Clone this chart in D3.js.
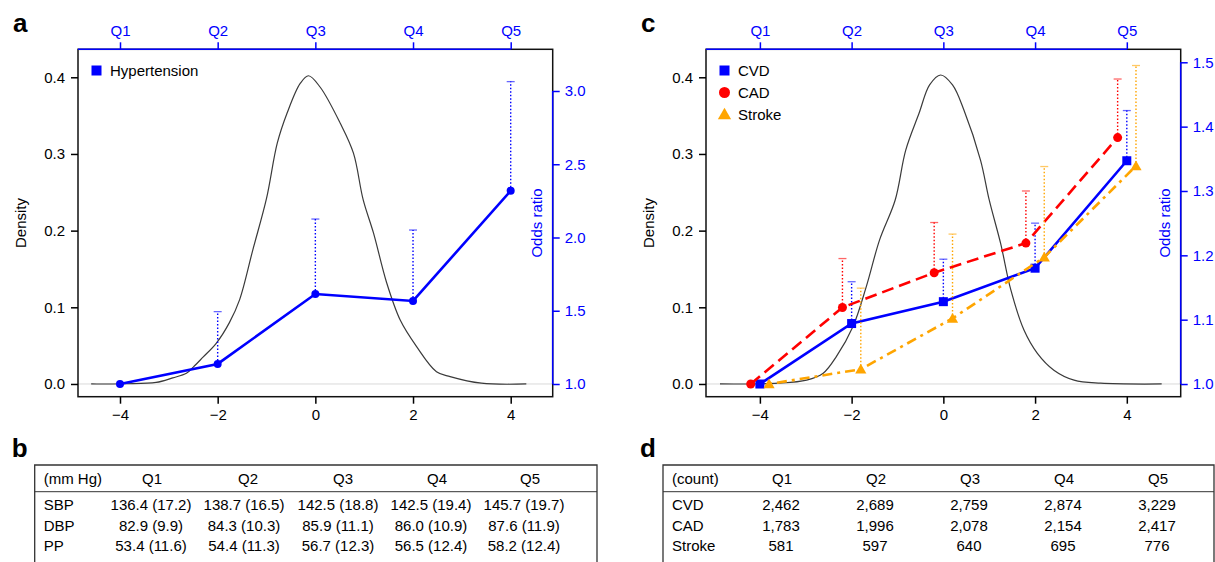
<!DOCTYPE html>
<html>
<head>
<meta charset="utf-8">
<script src="https://cdn.jsdelivr.net/npm/d3@7"></script>
<style>
  body { margin: 0; background: #fff; }
  text { font-family: "Liberation Sans", Arial, Helvetica, sans-serif; }
</style>
</head>
<body>
<svg id="fig" width="1215" height="562"></svg>
<script>
// ---- data ----
const quintiles = ['Q1', 'Q2', 'Q3', 'Q4', 'Q5'];
const quintileX = [-4, -2, 0, 2, 4];

// density of the genetic risk score, panel a
const densityA = [
  [-4.59, 0], [-3.9, 0.0003], [-3.26, 0.002], [-2.92, 0.008], [-2.64, 0.014],
  [-2.5, 0.022], [-2.3, 0.035], [-2.03, 0.053], [-1.76, 0.08], [-1.55, 0.11],
  [-1.28, 0.175], [-1.0, 0.242], [-0.78, 0.314], [-0.58, 0.353], [-0.31, 0.392],
  [-0.14, 0.402], [0.1, 0.387], [0.51, 0.34], [0.78, 0.301], [0.98, 0.24],
  [1.19, 0.197], [1.46, 0.132], [1.74, 0.083], [2.07, 0.049], [2.48, 0.016],
  [2.76, 0.0096], [3.4, 0.001], [4.32, 0]
];

// density, panel c
const densityC = [
  [-4.87, 0], [-3.6, 0.001], [-2.98, 0.005], [-2.62, 0.014], [-2.33, 0.036],
  [-1.97, 0.075], [-1.68, 0.127], [-1.39, 0.188], [-1.05, 0.24], [-0.82, 0.305],
  [-0.53, 0.353], [-0.3, 0.39], [-0.06, 0.403], [0.2, 0.39], [0.45, 0.357],
  [0.81, 0.292], [1.0, 0.24], [1.25, 0.183], [1.47, 0.123], [1.76, 0.07],
  [2.05, 0.04], [2.41, 0.018], [2.85, 0.005], [3.43, 0.001], [4.76, 0]
];

// odds ratios and upper CI
const htnOR = [1.0, 1.137, 1.614, 1.567, 2.319];
const htnUpper = [null, 1.494, 2.126, 2.051, 3.064];

const cvdOR = [1.0, 1.094, 1.128, 1.180, 1.347];
const cvdUpper = [null, 1.159, 1.194, 1.250, 1.425];
const cadOR = [1.0, 1.119, 1.173, 1.219, 1.383];
const cadUpper = [null, 1.195, 1.251, 1.300, 1.474];
const strokeOR = [1.0, 1.023, 1.102, 1.197, 1.339];
const strokeUpper = [null, 1.149, 1.233, 1.338, 1.495];

const densityTicks = [0, 0.1, 0.2, 0.3, 0.4];
const xTicks = [-4, -2, 0, 2, 4];
const orTicksA = [1.0, 1.5, 2.0, 2.5, 3.0];
const orTicksC = [1.0, 1.1, 1.2, 1.3, 1.4, 1.5];

// tables
const bpHeader = ['(mm Hg)', 'Q1', 'Q2', 'Q3', 'Q4', 'Q5'];
const bpRows = [
  ['SBP', '136.4 (17.2)', '138.7 (16.5)', '142.5 (18.8)', '142.5 (19.4)', '145.7 (19.7)'],
  ['DBP', '82.9 (9.9)', '84.3 (10.3)', '85.9 (11.1)', '86.0 (10.9)', '87.6 (11.9)'],
  ['PP', '53.4 (11.6)', '54.4 (11.3)', '56.7 (12.3)', '56.5 (12.4)', '58.2 (12.4)']
];
const countHeader = ['(count)', 'Q1', 'Q2', 'Q3', 'Q4', 'Q5'];
const countRows = [
  ['CVD', '2,462', '2,689', '2,759', '2,874', '3,229'],
  ['CAD', '1,783', '1,996', '2,078', '2,154', '2,417'],
  ['Stroke', '581', '597', '640', '695', '776']
];

// ---- drawing ----
const svg = d3.select('#fig');
const BLUE = '#0000ff';
const plotTop = 49.3, plotBottom = 396.7;

function drawPanel(o) {
  const g = svg.append('g');
  const x = d3.scaleLinear().domain(o.xDomain).range([o.left, o.right]);
  const y = d3.scaleLinear().domain([-0.0166, 0.4365]).range([plotBottom, plotTop]);
  const yr = d3.scaleLinear().domain(o.orDomain).range([plotBottom, plotTop]);

  // baseline
  g.append('line')
    .attr('x1', o.left).attr('x2', o.right)
    .attr('y1', y(0)).attr('y2', y(0))
    .attr('stroke', '#d9d9d9').attr('stroke-width', 1);

  // density curve
  g.append('path')
    .datum(o.density)
    .attr('fill', 'none')
    .attr('stroke', '#3a3a3a')
    .attr('stroke-width', 1.2)
    .attr('d', d3.line().x(d => x(d[0])).y(d => y(d[1])).curve(d3.curveCatmullRom));

  // series
  o.series.forEach(s => {
    const px = i => x(quintileX[i] + s.offset);
    // error bars (upper only)
    s.upper.forEach((u, i) => {
      if (u == null) return;
      g.append('line')
        .attr('x1', px(i)).attr('x2', px(i))
        .attr('y1', yr(s.or[i])).attr('y2', yr(u))
        .attr('stroke', s.color).attr('stroke-width', 1.4)
        .attr('stroke-dasharray', '1.5,2');
      g.append('line')
        .attr('x1', px(i) - 4).attr('x2', px(i) + 4)
        .attr('y1', yr(u)).attr('y2', yr(u))
        .attr('stroke', s.color).attr('stroke-opacity', 0.6).attr('stroke-width', 1.3);
    });
    g.append('path')
      .datum(s.or)
      .attr('fill', 'none')
      .attr('stroke', s.color)
      .attr('stroke-width', 2.6)
      .attr('stroke-dasharray', s.dash)
      .attr('d', d3.line().x((d, i) => px(i)).y(d => yr(d)));
    s.or.forEach((v, i) => drawMarker(g, s.shape, px(i), yr(v), s.color, s.size));
  });

  // box
  g.append('rect')
    .attr('x', o.left).attr('y', plotTop)
    .attr('width', o.right - o.left).attr('height', plotBottom - plotTop)
    .attr('fill', 'none').attr('stroke', '#111').attr('stroke-width', 1.5);

  const styleAxis = (sel, color) => {
    sel.select('.domain').remove();
    sel.selectAll('line').attr('stroke', color).attr('stroke-width', 1.5);
    sel.selectAll('text').attr('fill', color).style('font-size', '15px');
  };

  g.append('g').attr('transform', `translate(0,${plotBottom})`)
    .call(d3.axisBottom(x).tickValues(xTicks).tickSize(7).tickPadding(6)
      .tickFormat(d3.format('d')))
    .call(sel => styleAxis(sel, '#000'));

  g.append('g').attr('transform', `translate(${o.left},0)`)
    .call(d3.axisLeft(y).tickValues(densityTicks).tickSize(7).tickPadding(6)
      .tickFormat(d3.format('.1f')))
    .call(sel => styleAxis(sel, '#000'));

  // top quintile axis
  g.append('line')
    .attr('x1', o.left).attr('x2', x(quintileX[4]))
    .attr('y1', plotTop).attr('y2', plotTop)
    .attr('stroke', BLUE).attr('stroke-width', 1.5);
  g.append('g').attr('transform', `translate(0,${plotTop})`)
    .call(d3.axisTop(x).tickValues(quintileX).tickSize(7).tickPadding(6)
      .tickFormat((d, i) => quintiles[i]))
    .call(sel => styleAxis(sel, BLUE));

  // right odds ratio axis
  g.append('line')
    .attr('x1', o.right).attr('x2', o.right)
    .attr('y1', yr(o.orTicks[0])).attr('y2', yr(o.orTicks[o.orTicks.length - 1]))
    .attr('stroke', BLUE).attr('stroke-width', 1.5);
  g.append('g').attr('transform', `translate(${o.right},0)`)
    .call(d3.axisRight(yr).tickValues(o.orTicks).tickSize(7).tickPadding(5)
      .tickFormat(d3.format('.1f')))
    .call(sel => styleAxis(sel, BLUE));

  // axis titles
  const midY = (plotTop + plotBottom) / 2;
  g.append('text')
    .attr('transform', `translate(${o.left - 52},${midY}) rotate(-90)`)
    .attr('text-anchor', 'middle').style('font-size', '15px')
    .text('Density');
  g.append('text')
    .attr('transform', `translate(${o.right - 11},${midY}) rotate(-90)`)
    .attr('text-anchor', 'middle').style('font-size', '15px')
    .attr('fill', BLUE)
    .text('Odds ratio');

  // legend
  o.series.forEach((s, i) => {
    const ly = 70.5 + i * 22;
    drawMarker(g, s.legendShape || s.shape, o.left + 18.5, ly, s.color, s.legendSize || 10);
    g.append('text')
      .attr('x', o.left + 32).attr('y', ly + 5)
      .style('font-size', '15px')
      .text(s.name);
  });

  // panel letter
  g.append('text')
    .attr('x', o.left - 65).attr('y', 32)
    .style('font-size', '26px').style('font-weight', 'bold')
    .text(o.letter);
}

function drawMarker(g, shape, cx, cy, color, size) {
  if (shape === 'circle') {
    g.append('circle').attr('cx', cx).attr('cy', cy).attr('r', size / 2).attr('fill', color);
  } else if (shape === 'square') {
    g.append('rect').attr('x', cx - size / 2).attr('y', cy - size / 2)
      .attr('width', size).attr('height', size).attr('fill', color);
  } else {
    const sym = d3.symbol().type(d3.symbolTriangle).size(size * size * 0.45);
    g.append('path').attr('transform', `translate(${cx},${cy + 1})`).attr('d', sym()).attr('fill', color);
  }
}

drawPanel({
  letter: 'a', left: 78, right: 552.7, xDomain: [-4.86, 4.86],
  orDomain: [0.9133, 3.2846], orTicks: orTicksA, density: densityA,
  series: [
    { name: 'Hypertension', or: htnOR, upper: htnUpper, color: BLUE, offset: 0,
      dash: null, shape: 'circle', size: 8, legendShape: 'square', legendSize: 10 }
  ]
});

drawPanel({
  letter: 'c', left: 706, right: 1180.7, xDomain: [-5.175, 5.175],
  orDomain: [0.9803, 1.5202], orTicks: orTicksC, density: densityC,
  series: [
    { name: 'CVD', or: cvdOR, upper: cvdUpper, color: BLUE, offset: 0,
      dash: null, shape: 'square', size: 9, legendSize: 10 },
    { name: 'CAD', or: cadOR, upper: cadUpper, color: '#ff0000', offset: -0.2,
      dash: '12,6', shape: 'circle', size: 9, legendSize: 11 },
    { name: 'Stroke', or: strokeOR, upper: strokeUpper, color: '#ffa500', offset: 0.2,
      dash: '3,5,10,5', shape: 'triangle', size: 11, legendSize: 13 }
  ]
});

// ---- tables ----
function drawTable(o) {
  const g = svg.append('g');
  const rowY = [484, 510, 530.5, 551];
  g.append('path')
    .attr('d', `M${o.x0},570 V465 H${o.x1} V570`)
    .attr('fill', 'none').attr('stroke', '#333').attr('stroke-width', 1.3);
  g.append('line')
    .attr('x1', o.x0).attr('x2', o.x1).attr('y1', 491.7).attr('y2', 491.7)
    .attr('stroke', '#333').attr('stroke-width', 1);
  [o.header].concat(o.rows).forEach((row, r) => {
    const centers = r === 0 ? o.headCenters : o.centers;
    row.forEach((cell, c) => {
      g.append('text')
        .attr('x', c === 0 ? o.x0 + 9 : centers[c - 1])
        .attr('y', rowY[r])
        .attr('text-anchor', c === 0 ? 'start' : 'middle')
        .style('font-size', '15px')
        .text(cell);
    });
  });
  g.append('text')
    .attr('x', o.x0 - 23).attr('y', 457)
    .style('font-size', '26px').style('font-weight', 'bold')
    .text(o.letter);
}

drawTable({ letter: 'b', x0: 34.7, x1: 597, header: bpHeader, rows: bpRows,
  headCenters: [152, 248, 343, 437, 530], centers: [151, 244, 338, 431, 524] });
drawTable({ letter: 'd', x0: 663, x1: 1214, header: countHeader, rows: countRows,
  headCenters: [782, 876, 970, 1064, 1158], centers: [781, 875, 969, 1063, 1157] });
</script>
</body>
</html>
